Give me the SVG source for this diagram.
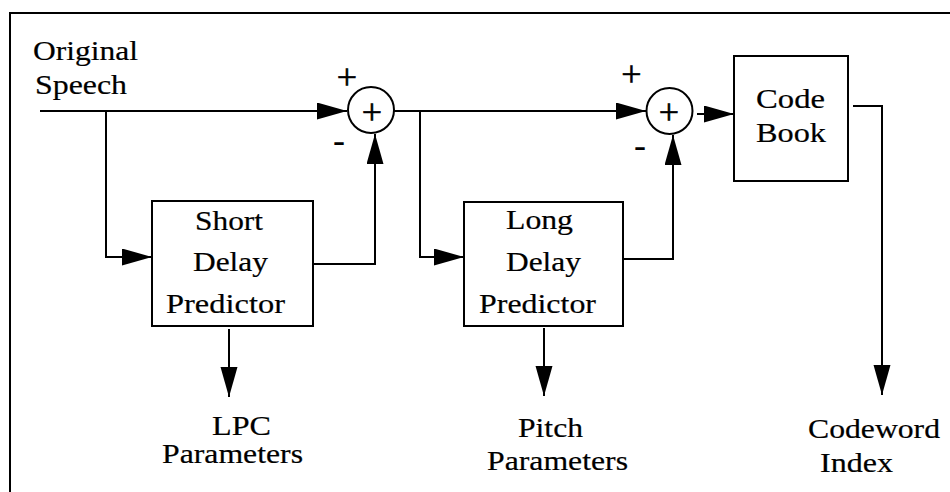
<svg xmlns="http://www.w3.org/2000/svg" width="950" height="492" viewBox="0 0 950 492">
  <style>
    .t { font-family: "Liberation Serif", "Times New Roman", serif; font-size: 28px; fill: #000; stroke: #000; stroke-width: 0.2; }
    .sign { font-family: "Liberation Serif", "Times New Roman", serif; fill: #000; text-anchor: middle; }
    .box { fill: #fff; stroke: #000; stroke-width: 2; }
    .wire { fill: none; stroke: #000; stroke-width: 2; }
    .arrow { fill: none; stroke: #000; stroke-width: 2; marker-end: url(#head); }
  </style>
  <defs>
    <marker id="head" markerUnits="userSpaceOnUse" markerWidth="31" markerHeight="18" refX="30" refY="8.5" orient="auto">
      <path d="M0,0 L30,8.5 L0,17 Z" fill="#000"/>
    </marker>
  </defs>

  <rect width="950" height="492" fill="#fff"/>

  <!-- open frame: top and left edges only -->
  <path class="wire" d="M10,492 V13 H950"/>

  <!-- input label -->
  <g id="input-label">
    <text class="t" x="33" y="60" textLength="105" lengthAdjust="spacingAndGlyphs">Original</text>
    <text class="t" x="35" y="94" textLength="92" lengthAdjust="spacingAndGlyphs">Speech</text>
  </g>

  <!-- connectors -->
  <g id="connectors">
    <!-- speech into first summer -->
    <path class="arrow" d="M40,111 H347"/>
    <!-- tap to short delay predictor -->
    <path class="arrow" d="M106,111 V257 H152"/>
    <!-- short delay predictor back to first summer -->
    <path class="arrow" d="M313,264 H375 V134"/>
    <!-- short delay predictor to LPC parameters -->
    <path class="arrow" d="M229,329 V397"/>
    <!-- first summer to second summer -->
    <path class="arrow" d="M394,111 H646"/>
    <!-- tap to long delay predictor -->
    <path class="arrow" d="M420,111 V257 H464"/>
    <!-- long delay predictor back to second summer -->
    <path class="arrow" d="M623,259 H673 V135"/>
    <!-- long delay predictor to pitch parameters -->
    <path class="arrow" d="M544,328 V396"/>
    <!-- second summer to code book -->
    <path class="arrow" d="M697,114 H734"/>
    <!-- code book to codeword index -->
    <path class="arrow" d="M853,106 H882 V395"/>
  </g>

  <!-- first summing junction -->
  <g id="sum1">
    <circle cx="371" cy="110" r="23" fill="#fff" stroke="#000" stroke-width="2"/>
    <text class="sign" x="372" y="124" font-size="36" stroke="#000" stroke-width="0.6">+</text>
    <text class="sign" x="347" y="89" font-size="36" stroke="#000" stroke-width="0.6">+</text>
    <text class="sign" x="339" y="152" font-size="36">-</text>
  </g>

  <!-- second summing junction -->
  <g id="sum2">
    <circle cx="669.5" cy="111" r="23" fill="#fff" stroke="#000" stroke-width="2"/>
    <text class="sign" x="669" y="124" font-size="36" stroke="#000" stroke-width="0.6">+</text>
    <text class="sign" x="631.5" y="85.5" font-size="36" stroke="#000" stroke-width="0.6">+</text>
    <text class="sign" x="640" y="157" font-size="36">-</text>
  </g>

  <!-- short delay predictor -->
  <g id="short-delay-predictor">
    <rect class="box" x="152" y="201" width="161" height="125"/>
    <text class="t" x="195" y="230" textLength="68" lengthAdjust="spacingAndGlyphs">Short</text>
    <text class="t" x="193" y="271" textLength="75" lengthAdjust="spacingAndGlyphs">Delay</text>
    <text class="t" x="166" y="313" textLength="119" lengthAdjust="spacingAndGlyphs">Predictor</text>
  </g>

  <!-- long delay predictor -->
  <g id="long-delay-predictor">
    <rect class="box" x="464" y="202" width="159" height="124"/>
    <text class="t" x="506" y="229" textLength="67" lengthAdjust="spacingAndGlyphs">Long</text>
    <text class="t" x="506" y="271" textLength="75" lengthAdjust="spacingAndGlyphs">Delay</text>
    <text class="t" x="479" y="313" textLength="117" lengthAdjust="spacingAndGlyphs">Predictor</text>
  </g>

  <!-- code book -->
  <g id="code-book">
    <rect class="box" x="734" y="56" width="114" height="125"/>
    <text class="t" x="756" y="108" textLength="69" lengthAdjust="spacingAndGlyphs">Code</text>
    <text class="t" x="756" y="142" textLength="70" lengthAdjust="spacingAndGlyphs">Book</text>
  </g>

  <!-- output labels -->
  <g id="lpc-parameters">
    <text class="t" x="212" y="435" textLength="59" lengthAdjust="spacingAndGlyphs">LPC</text>
    <text class="t" x="162" y="463" textLength="141" lengthAdjust="spacingAndGlyphs">Parameters</text>
  </g>
  <g id="pitch-parameters">
    <text class="t" x="518" y="437" textLength="65" lengthAdjust="spacingAndGlyphs">Pitch</text>
    <text class="t" x="487" y="470" textLength="141" lengthAdjust="spacingAndGlyphs">Parameters</text>
  </g>
  <g id="codeword-index">
    <text class="t" x="808" y="438" textLength="132" lengthAdjust="spacingAndGlyphs">Codeword</text>
    <text class="t" x="820" y="472" textLength="73" lengthAdjust="spacingAndGlyphs">Index</text>
  </g>
</svg>
